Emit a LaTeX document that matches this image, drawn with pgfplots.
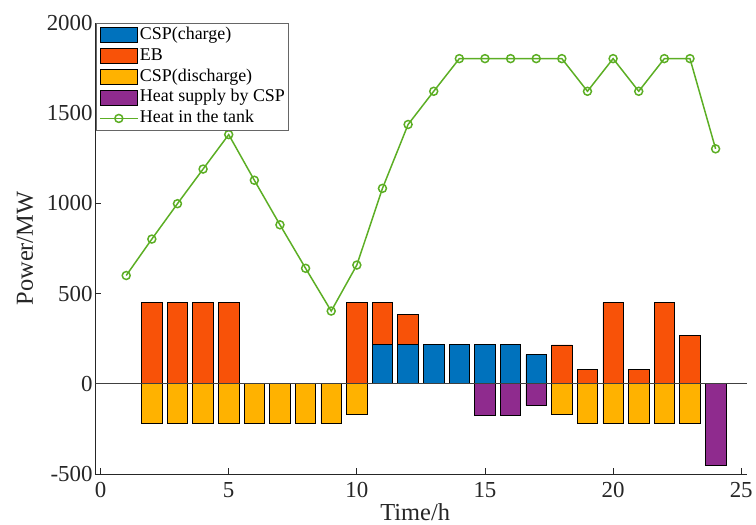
\documentclass[border=0pt]{standalone}
\usepackage{pgfplots}
\pgfplotsset{compat=1.18}
\usepackage{fontspec}
\setmainfont{Liberation Serif}
\definecolor{cspc}{RGB}{0,114,189}
\definecolor{eb}{RGB}{248,82,8}
\definecolor{cspd}{RGB}{255,178,0}
\definecolor{hs}{RGB}{143,43,142}
\definecolor{tank}{RGB}{92,174,36}
\definecolor{axc}{RGB}{38,38,38}
\pgfplotsset{common/.style={width=654.3pt,height=453pt,scale only axis,
  xmin=-0.206,xmax=25.22,ymin=-500,ymax=2000,enlargelimits=false},
  barleg/.style={legend image code/.code={\draw[##1] (0pt,-7.5pt) rectangle (38pt,7.5pt);}},
  lineleg/.style={legend image code/.code={\draw[mark repeat=2,mark phase=2,##1] plot coordinates {(0pt,0pt)(19pt,0pt)(38pt,0pt)};}}}
\begin{document}
\begin{tikzpicture}
% positive stacked bars + decorations
\begin{axis}[common,
  axis lines=left, axis line style={-, line width=0.8pt, color=axc},
  tick align=inside, major tick length=6pt,
  tick style={line width=0.8pt, color=axc},
  xtick={0,5,10,15,20,25}, ytick={-500,0,500,1000,1500,2000},
  scaled ticks=false,
  /pgf/number format/1000 sep={},
  /pgf/number format/assume math mode=true,
  ticklabel style={font=\fontsize{23}{27}\selectfont, text=axc},
  xticklabel style={yshift=-4.5pt},
  yticklabel style={xshift=0.8pt},
  xlabel={Time/h}, ylabel={Power/MW},
  label style={font=\fontsize{24.5}{28}\selectfont, text=axc, inner sep=0pt},
  xlabel style={at={(axis description cs:0.491,-0.085)}, anchor=center},
  ylabel style={at={(axis description cs:-0.108,0.5)}, anchor=center},
  ybar stacked, bar width=0.8]
\addplot[fill=cspc, draw=black, line width=0.7pt] coordinates {
(1,0)(2,0)(3,0)(4,0)(5,0)(6,0)(7,0)(8,0)(9,0)(10,0)(11,220)(12,220)(13,220)(14,220)(15,220)(16,220)(17,162)(18,0)(19,0)(20,0)(21,0)(22,0)(23,0)(24,0)};
\addplot[fill=eb, draw=black, line width=0.7pt] coordinates {
(1,0)(2,450)(3,450)(4,450)(5,450)(6,0)(7,0)(8,0)(9,0)(10,450)(11,230)(12,165)(13,0)(14,0)(15,0)(16,0)(17,0)(18,215)(19,80)(20,450)(21,80)(22,450)(23,266)(24,0)};
\end{axis}
% negative stacked bars
\begin{axis}[common, hide axis, ybar stacked, bar width=0.8]
\addplot[fill=cspd, draw=black, line width=0.7pt] coordinates {
(1,0)(2,-220)(3,-220)(4,-220)(5,-220)(6,-220)(7,-220)(8,-220)(9,-220)(10,-172)(11,0)(12,0)(13,0)(14,0)(15,0)(16,0)(17,0)(18,-172)(19,-220)(20,-220)(21,-220)(22,-220)(23,-220)(24,0)};
\addplot[fill=hs, draw=black, line width=0.7pt] coordinates {
(1,0)(2,0)(3,0)(4,0)(5,0)(6,0)(7,0)(8,0)(9,0)(10,0)(11,0)(12,0)(13,0)(14,0)(15,-176)(16,-176)(17,-120)(18,0)(19,0)(20,0)(21,0)(22,0)(23,0)(24,-452)};
\end{axis}
% line, zero line, legend
\begin{axis}[common, hide axis,
  legend cell align=left,
  legend style={at={(0.0015,1)}, anchor=north west, draw=black!60, line width=0.8pt,
    inner xsep=2.5pt, inner ysep=1.5pt, row sep=0pt,
    font=\fontsize{18}{18}\selectfont,
    nodes={inner xsep=1.5pt, inner ysep=2.2pt, text height=12.5pt, text depth=4pt}}]
\addplot[color=black!75, line width=0.6pt, forget plot] coordinates {(-1,0)(26,0)};
\addlegendimage{barleg, fill=cspc, draw=black, line width=0.7pt}
\addlegendimage{barleg, fill=eb, draw=black, line width=0.7pt}
\addlegendimage{barleg, fill=cspd, draw=black, line width=0.7pt}
\addlegendimage{barleg, fill=hs, draw=black, line width=0.7pt}
\addplot[color=tank, line width=1.5pt, mark=o, mark size=4pt,
  mark options={line width=1.5pt}, lineleg]
  coordinates {(1,600)(2,802)(3,998)(4,1190)(5,1381)(6,1128)(7,881)(8,640)(9,403)(10,658)(11,1083)(12,1437)(13,1621)(14,1802)(15,1802)(16,1802)(17,1802)(18,1802)(19,1621)(20,1802)(21,1621)(22,1802)(23,1802)(24,1302)};
\legend{CSP(charge),EB,CSP(discharge),Heat supply by CSP,Heat in the tank}
\end{axis}
\path (current axis.south west) ++(-95.7pt,-51pt) coordinate (bbA);
\path (current axis.north east) ++(6pt,23pt) coordinate (bbB);
\path (bbA) rectangle (bbB);
\end{tikzpicture}
\end{document}
